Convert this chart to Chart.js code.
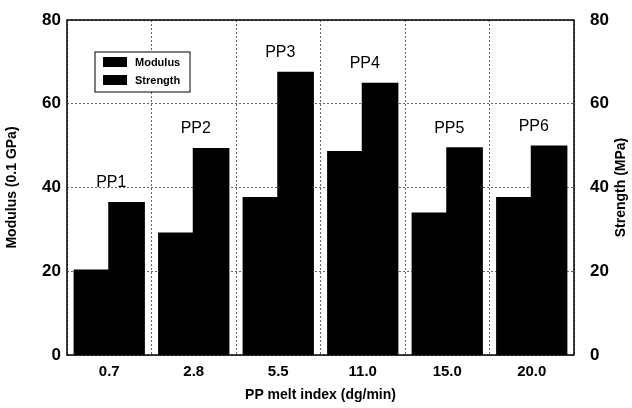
<!DOCTYPE html>
<html>
<head>
<meta charset="utf-8">
<script src="https://cdn.jsdelivr.net/npm/chart.js@4/dist/chart.umd.min.js"></script>
<style>
  html, body { margin: 0; padding: 0; background: #fff; }
  #wrap { width: 632px; height: 408px; }
</style>
</head>
<body>
<div id="wrap"><canvas id="myChart" width="632" height="408"></canvas></div>
<script>
// chart values
const meltIndex = ['0.7', '2.8', '5.5', '11.0', '15.0', '20.0'];
const gradeNames = ['PP1', 'PP2', 'PP3', 'PP4', 'PP5', 'PP6'];
const modulus = [20.2, 29, 37.5, 48.5, 33.8, 37.5];
const strength = [36.3, 49.2, 67.4, 64.8, 49.4, 49.8];

const FONT = '"Liberation Sans", Arial, sans-serif';

// PP labels above each group + legend box + frame + right title
const extras = {
  id: 'extras',
  afterDraw(chart) {
    const ctx = chart.ctx;
    const area = chart.chartArea;
    const x = chart.scales.x, y = chart.scales.y;
    ctx.save();
    // frame
    ctx.strokeStyle = '#000';
    ctx.lineWidth = 1.5;
    ctx.strokeRect(area.left, area.top, area.right - area.left, area.bottom - area.top);

    // grade labels
    ctx.fillStyle = '#000';
    ctx.font = '16px ' + FONT;
    ctx.textAlign = 'center';
    ctx.textBaseline = 'bottom';
    gradeNames.forEach((name, i) => {
      const top = Math.max(modulus[i], strength[i]);
      ctx.fillText(name, x.getPixelForValue(i) + 2, y.getPixelForValue(top) - 12);
    });

    // right axis title, reading bottom to top like the left one
    ctx.save();
    ctx.translate(621, (area.top + area.bottom) / 2);
    ctx.rotate(-Math.PI / 2);
    ctx.font = 'bold 14px ' + FONT;
    ctx.textBaseline = 'middle';
    ctx.fillText('Strength (MPa)', 0, 0);
    ctx.restore();

    // legend
    const lx = area.left + 28, ly = area.top + 32;
    ctx.fillStyle = '#fff';
    ctx.fillRect(lx, ly, 95, 40);
    ctx.lineWidth = 1;
    ctx.strokeRect(lx, ly, 95, 40);
    ctx.fillStyle = '#000';
    ctx.fillRect(lx + 8, ly + 5, 24, 10);
    ctx.fillRect(lx + 8, ly + 23, 24, 10);
    ctx.font = 'bold 11px ' + FONT;
    ctx.textAlign = 'left';
    ctx.textBaseline = 'middle';
    ctx.fillText('Modulus', lx + 40, ly + 11);
    ctx.fillText('Strength', lx + 40, ly + 29);
    ctx.restore();
  }
};

const gridOpts = {
  color: '#666',
  lineWidth: 1,
  tickLength: 0,
  drawTicks: false
};

new Chart(document.getElementById('myChart'), {
  type: 'bar',
  data: {
    labels: meltIndex,
    datasets: [
      { label: 'Modulus', data: modulus, backgroundColor: '#000', borderWidth: 0, inflateAmount: 1, yAxisID: 'y' },
      { label: 'Strength', data: strength, backgroundColor: '#000', borderWidth: 0, inflateAmount: 1, yAxisID: 'y' }
    ]
  },
  options: {
    responsive: false,
    animation: false,
    devicePixelRatio: 1,
    layout: { padding: { top: 20, left: 0, right: 0, bottom: 0 } },
    datasets: { bar: { categoryPercentage: 0.82, barPercentage: 1.0 } },
    plugins: {
      legend: { display: false },
      tooltip: { enabled: false }
    },
    scales: {
      x: {
        grid: { ...gridOpts },
        border: { display: false, dash: [2, 2] },
        ticks: { color: '#000', font: { family: FONT, size: 15, weight: 'bold' }, padding: 8 },
        title: { display: true, text: 'PP melt index (dg/min)', color: '#000', font: { family: FONT, size: 14, weight: 'bold' }, padding: { top: 5 } },
        afterFit(s) { s.height = 53; }
      },
      y: {
        position: 'left',
        min: 0, max: 80,
        ticks: { stepSize: 20, color: '#000', font: { family: FONT, size: 17, weight: 'bold' }, padding: 6 },
        grid: { ...gridOpts },
        border: { display: false, dash: [2, 2] },
        title: { display: true, text: 'Modulus (0.1 GPa)', color: '#000', font: { family: FONT, size: 14, weight: 'bold' }, padding: { top: 4, bottom: 0 } },
        afterFit(s) { s.width = 67; }
      },
      y2: {
        position: 'right',
        min: 0, max: 80,
        ticks: { stepSize: 20, color: '#000', font: { family: FONT, size: 17, weight: 'bold' }, padding: 8 },
        grid: { display: false },
        border: { display: false },
        title: { display: false },
        afterFit(s) { s.width = 58; }
      }
    }
  },
  plugins: [extras]
});
</script>
</body>
</html>
